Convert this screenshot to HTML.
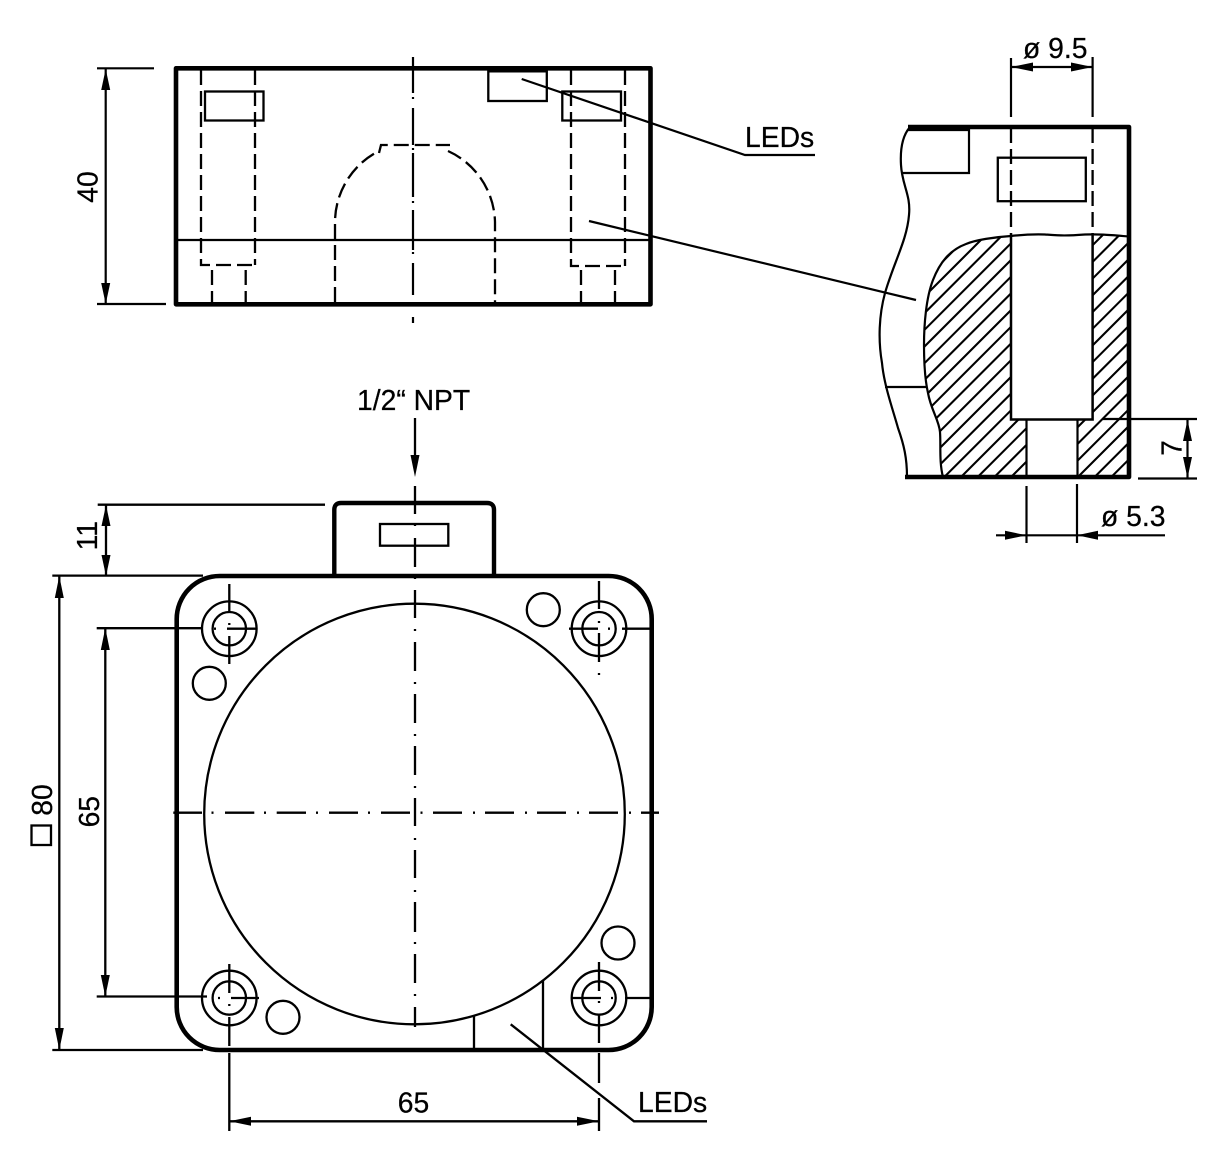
<!DOCTYPE html>
<html lang="en">
<head>
<meta charset="utf-8">
<title>Dimensional drawing</title>
<style>
html,body{margin:0;padding:0;background:#fff}
svg{display:block}
text{font-family:"Liberation Sans",Arial,sans-serif;font-size:28.3px;fill:#000;stroke:#000;stroke-width:.25px}
</style>
</head>
<body>
<svg xmlns="http://www.w3.org/2000/svg" width="1229" height="1170" viewBox="0 0 1229 1170">
<defs>
<clipPath id="hatchclip">
<path d="M1011 236C995 237 975 240 966 244C950 250 940 262 933 280C926 298 924 325 924 345C924 365 925 380 928 393C931 410 939 420 940 432C941 445 939 462 943 477L1026.5 477L1026.5 419.5L1011 419.5Z"/>
<path d="M1092.6 234.5L1110 235L1129 236.5L1129 477L1077.5 477L1077.5 419.5L1092.6 419.5Z"/>
</clipPath>
</defs>
<rect width="1229" height="1170" fill="#fff"/>

<!-- TOP VIEW -->
<g fill="none" stroke="#000">
<rect x="176" y="68.3" width="474.5" height="236" stroke-width="4.6" stroke-linejoin="round"/>
<path d="M176 240H650" stroke-width="2.2"/>
<rect x="205" y="91.5" width="58.5" height="29" stroke-width="2.3"/>
<rect x="562.3" y="91.5" width="58.7" height="29" stroke-width="2.3"/>
<rect x="488.3" y="69" width="58.5" height="32" stroke-width="2.3"/>
<path d="M488.3 69.5H546.8" stroke-width="6"/>
<g stroke-width="2.3" stroke-dasharray="15 6">
<path d="M201 70V265H255"/>
<path d="M255 70V265"/>
<path d="M571 70V266H625"/>
<path d="M625 70V266"/>
<path d="M212 270V302M245.7 270V302M581 270V302M615 270V302"/>
<path d="M335 302V222A80 80 0 0 1 379 151"/>
<path d="M379 153L381 145H450"/>
<path d="M448 151A80 80 0 0 1 495 222V302"/>
</g>
<path d="M521.7 79L745 155H815" stroke-width="2.2"/>
<path d="M589 221L916 300" stroke-width="2.2"/>
<path d="M413 57V93M413 97V99M413 108V145M413 148V150M413 153V197M413 201V203M413 210V250M413 252V254M413 263V295M413 317V323" stroke-width="2.2"/>
<!-- dim 40 -->
<path d="M97 68.3H154M97 304H166M105.7 68.3V304" stroke-width="2.2"/>
</g>
<polygon points="105.7,69 101.2,90 110.2,90"/>
<polygon points="105.7,304 101.2,283 110.2,283"/>
<text transform="translate(97.3 187) rotate(-90)" text-anchor="middle">40</text>
<text x="745" y="147">LEDs</text>

<!-- SECTION VIEW -->
<g fill="none" stroke="#000">
<path clip-path="url(#hatchclip)" stroke-width="2.1" d="M900 287.5L1140 47.5M900 304.2L1140 64.2M900 320.9L1140 80.9M900 337.6L1140 97.6M900 354.3L1140 114.3M900 371L1140 131M900 387.7L1140 147.7M900 404.4L1140 164.4M900 421.1L1140 181.1M900 437.8L1140 197.8M900 454.5L1140 214.5M900 471.2L1140 231.2M900 487.9L1140 247.9M900 504.6L1140 264.6M900 521.3L1140 281.3M900 538L1140 298M900 554.7L1140 314.7M900 571.4L1140 331.4M900 588.1L1140 348.1M900 604.8L1140 364.8M900 621.5L1140 381.5M900 638.2L1140 398.2M900 654.9L1140 414.9M900 671.6L1140 431.6M900 688.3L1140 448.3M900 705L1140 465"/>
<path d="M908 127H1129V477H905" stroke-width="4.6" stroke-linejoin="round"/>
<path d="M910 127C903 135 900 148 901 165C902 185 911 195 909 215C907 240 894 262 885 293C879 315 878 340 882 363C884 385 893 410 898 428C904 445 907 458 907 477" stroke-width="2.2"/>
<path d="M903 173H969V130H908" stroke-width="2.2"/>
<rect x="997.8" y="157.7" width="88" height="43.5" stroke-width="2.3"/>
<path d="M1011 128V233M1092.6 128V233" stroke-width="2.3" stroke-dasharray="15 6"/>
<path d="M1129 236.5C1110 235 1100 234 1085 234.5C1065 236 1060 235.5 1045 234.5C1030 234 1020 235 1011 236C995 237 975 240 966 244C950 250 940 262 933 280C926 298 924 325 924 345C924 365 925 380 928 393C931 410 939 420 940 432C941 445 939 462 943 477" stroke-width="2.2"/>
<path d="M1011 233V419.5H1092.6V233" stroke-width="2.5"/>
<path d="M1026.5 419.5V477M1077.5 419.5V477" stroke-width="2.2"/>
<path d="M885 387H926" stroke-width="2.2"/>
<!-- dim 9.5 -->
<path d="M1011 58V117M1092.6 57V117M1011 67H1092.6" stroke-width="2.2"/>
<!-- dim 7 -->
<path d="M1103 419H1197M1138 478.5H1197M1187.5 419V478.5" stroke-width="2.2"/>
<!-- dim 5.3 -->
<path d="M1026.5 486V543M1077 484V543M996 535.3H1165" stroke-width="2.2"/>
</g>
<polygon points="1011,67 1033,62.5 1033,71.5"/>
<polygon points="1092.6,67 1071,62.5 1071,71.5"/>
<polygon points="1187.5,420 1183,441 1192,441"/>
<polygon points="1187.5,478 1183,457 1192,457"/>
<polygon points="1026.5,535.3 1005,530.8 1005,539.8"/>
<polygon points="1077,535.3 1098,530.8 1098,539.8"/>
<text x="1023" y="58">ø 9.5</text>
<text x="1101" y="526">ø 5.3</text>
<text transform="translate(1181.7 448) rotate(-90)" text-anchor="middle">7</text>

<!-- BOTTOM VIEW -->
<g fill="none" stroke="#000">
<rect x="176.7" y="576" width="475" height="474" rx="43" ry="43" stroke-width="4.6"/>
<path d="M334.3 576V510Q334.3 503 341 503H487Q494 503 494 510V576" stroke-width="4.4"/>
<rect x="380" y="524" width="68.3" height="21.7" stroke-width="2.3"/>
<circle cx="414.5" cy="814" r="210.3" stroke-width="2.3"/>
<g stroke-width="2.3">
<circle cx="229.3" cy="628.7" r="27.3"/><circle cx="229.3" cy="628.7" r="16.7"/>
<circle cx="599" cy="628.7" r="27.3"/><circle cx="599" cy="628.7" r="16.7"/>
<circle cx="229.3" cy="998" r="27.3"/><circle cx="229.3" cy="998" r="16.7"/>
<circle cx="599" cy="998" r="27.3"/><circle cx="599" cy="998" r="16.7"/>
<circle cx="543.3" cy="609.7" r="16.5"/>
<circle cx="209.3" cy="683.3" r="16.5"/>
<circle cx="283" cy="1017.3" r="16.5"/>
<circle cx="618" cy="943" r="16.5"/>
<!-- crosshairs -->
<path d="M229.3 584V612M229.3 623V625M229.3 636V664M214 628.7H216M227 628.7H256"/>
<path d="M599 581V609M599 621V623M599 633V662M599 673V675M569 628.7H598M608 628.7H610M622 628.7H650"/>
<path d="M229.3 964V993M229.3 1004V1006M229.3 1017V1046M218 998H220M231 998H259"/>
<path d="M599 962V991M599 1001V1003M599 1014V1043M572 998H601M611 998H613M625 998H650"/>
<!-- LED lines -->
<path d="M474 1016V1050M543 980V1050"/>
<path d="M510.7 1024.3L634 1121.3H707"/>
<!-- center lines -->
<path d="M415 486V514M415 524V526M415 538V567M415 577V579M415 590V618M415 629V631M415 642V671M415 682V684M415 694V723M415 734V736M415 746V775M415 786V788M415 798V826M415 838V840M415 850V878M415 890V892M415 902V932M415 942V944M415 954V983M415 994V996M415 1007V1027"/>
<path d="M173.3 812.7H202M211.5 812.7H213.5M225 812.7H254.3M264 812.7H266M276.7 812.7H306M316 812.7H318M329 812.7H358M368 812.7H370M381 812.7H410M420.5 812.7H422.5M433 812.7H462M473 812.7H475M485 812.7H514M525 812.7H527M537 812.7H566M577 812.7H579M589 812.7H618M629 812.7H631M641 812.7H659"/>
<!-- dims -->
<path d="M415 418V460"/>
<path d="M97.7 504.7H325M52.3 575.6H203M52.3 1050H203M96.7 628.2H203M96.7 996.5H207"/>
<path d="M106 505V576M59.3 576V1050M105.3 628V996.5"/>
<path d="M229.3 1053V1131M599 1053V1083M599 1098V1131M229.3 1121.3H599"/>
<rect x="31.5" y="825.5" width="19.5" height="19.5"/>
</g>
</g>
<polygon points="415,477 410.5,455 419.5,455"/>
<polygon points="106,505 101.5,526 110.5,526"/>
<polygon points="106,576 101.5,555 110.5,555"/>
<polygon points="59.3,576 54.8,598 63.8,598"/>
<polygon points="59.3,1050 54.8,1028 63.8,1028"/>
<polygon points="105.3,628 100.8,650 109.8,650"/>
<polygon points="105.3,996.5 100.8,975 109.8,975"/>
<polygon points="229.3,1121.3 251,1116.8 251,1125.8"/>
<polygon points="599,1121.3 577,1116.8 577,1125.8"/>
<text x="357" y="410">1/2“ NPT</text>
<text transform="translate(97 535.7) rotate(-90)" text-anchor="middle">11</text>
<text transform="translate(99 811.7) rotate(-90)" text-anchor="middle">65</text>
<text transform="translate(52 800) rotate(-90)" text-anchor="middle">80</text>
<text x="413.5" y="1112.7" text-anchor="middle">65</text>
<text x="638" y="1112">LEDs</text>
</svg>
</body>
</html>
